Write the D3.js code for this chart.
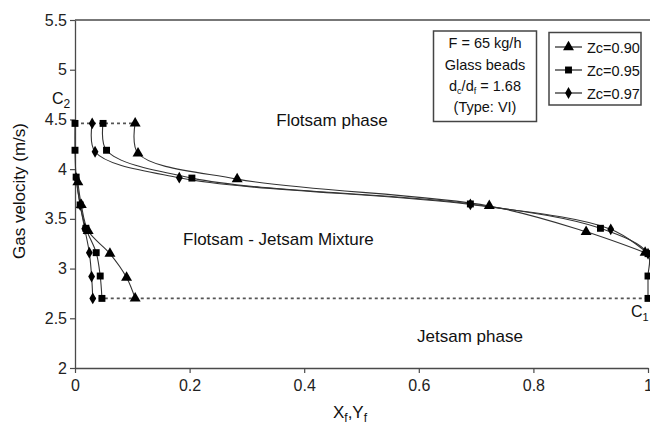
<!DOCTYPE html>
<html><head><meta charset="utf-8">
<script src="https://cdn.jsdelivr.net/npm/d3@7"></script>
<style>body{margin:0;background:#fff}svg{display:block;font-family:"Liberation Sans",Arial,sans-serif}</style>
</head><body><svg id="c" width="650" height="431"></svg>
<script>
// ---- data ----
const xTicks = [0, 0.2, 0.4, 0.6, 0.8, 1];
const yTicks = [2, 2.5, 3, 3.5, 4, 4.5, 5, 5.5];
const seriesNames = ["Zc=0.90", "Zc=0.95", "Zc=0.97"];
const seriesSymbols = ["triangle", "square", "diamond"];
// Yf branch (upper/right curve) : [x, velocity]
const upper090 = [[0.105,4.46],[0.110,4.16],[0.283,3.90],[0.723,3.63],[0.892,3.37],[0.995,3.16]];
const upper095 = [[0.049,4.46],[0.055,4.19],[0.204,3.91],[0.690,3.65],[0.917,3.405],[1.0,3.15],[1.0,2.925],[1.0,2.70]];
const upper097 = [[0.030,4.46],[0.035,4.175],[0.182,3.914],[0.690,3.645],[0.935,3.395],[1.0,3.15]];
// Xf branch (lower/left curve)
const lower090 = [[0.005,3.87],[0.011,3.64],[0.023,3.38],[0.061,3.15],[0.090,2.91],[0.105,2.70]];
const lower095 = [[0,4.46],[0,4.19],[0.002,3.92],[0.009,3.64],[0.019,3.405],[0.037,3.16],[0.044,2.925],[0.047,2.70]];
const lower097 = [[0.002,3.91],[0.009,3.64],[0.017,3.40],[0.025,3.16],[0.029,2.92],[0.031,2.70]];
// tie lines (dotted)
const tieTop = [[0,4.46],[0.105,4.46]];
const tieBottom = [[0.031,2.70],[1.0,2.70]];

const series = [
  {name: seriesNames[0], sym: seriesSymbols[0], upper: upper090, lower: lower090},
  {name: seriesNames[1], sym: seriesSymbols[1], upper: upper095, lower: lower095},
  {name: seriesNames[2], sym: seriesSymbols[2], upper: upper097, lower: lower097}
];

const svg = d3.select("#c");
const x = d3.scaleLinear().domain([0,1]).range([75,648]);
const y = d3.scaleLinear().domain([2,5.5]).range([368,20]);
const axisCol = "#4a4a4a";

// frame top line
svg.append("line").attr("x1",75).attr("x2",650).attr("y1",y(5.5)).attr("y2",y(5.5))
  .attr("stroke",axisCol).attr("stroke-width",1.3);

const xAxis = svg.append("g").attr("transform",`translate(0,${y(2)})`)
  .call(d3.axisBottom(x).tickValues(xTicks).tickFormat(d3.format("")).tickSize(5).tickSizeOuter(0));
const yAxis = svg.append("g").attr("transform",`translate(${x(0)},0)`)
  .call(d3.axisLeft(y).tickValues(yTicks).tickFormat(d3.format("")).tickSize(5).tickSizeOuter(0));
[xAxis,yAxis].forEach(g=>{
  g.select(".domain").attr("stroke",axisCol).attr("stroke-width",1.3);
  g.selectAll(".tick line").attr("stroke",axisCol).attr("stroke-width",1.2);
  g.selectAll(".tick text").attr("fill","#222").style("font-size","16px").style("font-family","Liberation Sans, Arial, sans-serif");
});
xAxis.selectAll(".tick text").attr("dy","0.95em");
yAxis.selectAll(".tick text").attr("x",-8);

// tie lines
const straight = d3.line().x(d=>x(d[0])).y(d=>y(d[1]));
[tieTop, tieBottom].forEach(t=>{
  svg.append("path").attr("d",straight(t)).attr("fill","none")
    .attr("stroke","#555").attr("stroke-width",1.6).attr("stroke-dasharray","3,3");
});

// curves
const smooth = d3.line().x(d=>x(d[0])).y(d=>y(d[1])).curve(d3.curveCatmullRom.alpha(0.5));
series.forEach(s=>{
  [s.upper, s.lower].forEach(b=>{
    svg.append("path").attr("d",smooth(b)).attr("fill","none")
      .attr("stroke","#333").attr("stroke-width",1.1);
  });
});

const symMap = {triangle: d3.symbolTriangle, square: d3.symbolSquare, diamond: d3.symbolDiamond};
const symSize = {triangle: 52, square: 48, diamond: 40};
series.forEach(s=>{
  const pts = s.upper.concat(s.lower);
  svg.append("g").selectAll("path").data(pts).join("path")
    .attr("transform",d=>`translate(${x(d[0])},${y(d[1])})`)
    .attr("d",d3.symbol().type(symMap[s.sym]).size(symSize[s.sym]))
    .attr("fill","#000");
});

// region labels
function txt(xp, yp, str, size, anchor){
  return svg.append("text").attr("x",xp).attr("y",yp).attr("text-anchor",anchor||"start")
    .style("font-size",size+"px").attr("fill","#111").text(str);
}
txt(332,126,"Flotsam phase",17,"middle");
txt(183,245,"Flotsam - Jetsam Mixture",17,"start");
txt(470,342,"Jetsam phase",17,"middle");

// C2, C1
const c2 = svg.append("text").attr("x",52).attr("y",104).style("font-size","16px").attr("fill","#111");
c2.append("tspan").text("C");
c2.append("tspan").attr("dy",4).style("font-size","12px").text("2");
const c1 = svg.append("text").attr("x",631).attr("y",317).style("font-size","16px").attr("fill","#111");
c1.append("tspan").text("C");
c1.append("tspan").attr("dy",4).style("font-size","11px").text("1");

// axis titles
svg.append("text").attr("transform","translate(25,191) rotate(-90)").attr("text-anchor","middle")
  .style("font-size","17px").attr("fill","#111").text("Gas velocity (m/s)");
const xt = svg.append("text").attr("x",350).attr("y",418).attr("text-anchor","middle")
  .style("font-size","17px").attr("fill","#111");
xt.append("tspan").text("X");
xt.append("tspan").attr("dy",4).style("font-size","12px").text("f");
xt.append("tspan").attr("dy",-4).text(",Y");
xt.append("tspan").attr("dy",4).style("font-size","12px").text("f");

// annotation box
svg.append("rect").attr("x",433.5).attr("y",31).attr("width",103).attr("height",90.5)
  .attr("fill","#fff").attr("stroke","#444").attr("stroke-width",1.5);
const annY = [48, 70, 91, 112];
txt(485,annY[0],"F = 65 kg/h",14.5,"middle");
txt(485,annY[1],"Glass beads",14.5,"middle");
const dd = svg.append("text").attr("x",485).attr("y",annY[2]).attr("text-anchor","middle")
  .style("font-size","14.5px").attr("fill","#111");
dd.append("tspan").text("d");
dd.append("tspan").attr("dy",3).style("font-size","9px").text("c");
dd.append("tspan").attr("dy",-3).text("/d");
dd.append("tspan").attr("dy",3).style("font-size","9px").text("f");
dd.append("tspan").attr("dy",-3).text(" = 1.68");
txt(485,annY[3],"(Type: VI)",14.5,"middle");

// legend
svg.append("rect").attr("x",549).attr("y",32.5).attr("width",92).attr("height",72.5)
  .attr("fill","#fff").attr("stroke","#444").attr("stroke-width",1.5);
const legY = [47, 70, 93];
series.forEach((s,i)=>{
  const g = svg.append("g").attr("transform",`translate(0,${legY[i]})`);
  g.append("line").attr("x1",555).attr("x2",582).attr("stroke","#222").attr("stroke-width",1.2);
  g.append("path").attr("transform","translate(568.5,0)")
    .attr("d",d3.symbol().type(symMap[s.sym]).size(symSize[s.sym]))
    .attr("fill","#000");
  g.append("text").attr("x",587).attr("y",5.5).style("font-size","14.5px").attr("fill","#111").text(s.name);
});
</script></body></html>
